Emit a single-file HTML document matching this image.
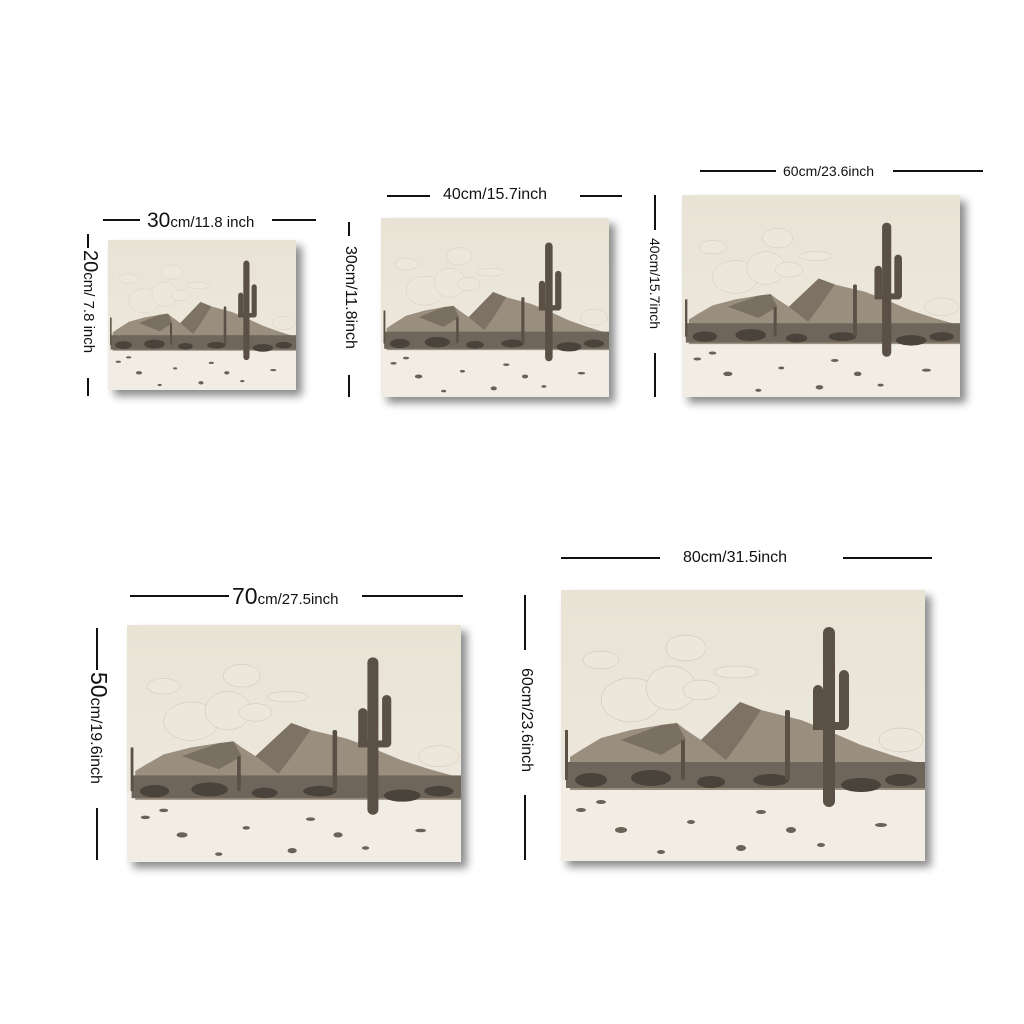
<!DOCTYPE html>
<html><head><meta charset="utf-8"><style>
html,body{margin:0;padding:0;background:#fff;}
body{width:1024px;height:1024px;position:relative;overflow:hidden;font-family:"Liberation Sans",sans-serif;color:#111;}
.img{position:absolute;box-shadow:6px 6px 8px rgba(0,0,0,0.45);background:#ece6da;}
.img svg{display:block;width:100%;height:100%;}
.hl{position:absolute;height:2px;background:#111;}
.vl{position:absolute;width:2px;background:#111;}
.t{position:absolute;white-space:nowrap;line-height:1;}
.r{transform-origin:0 0;transform:rotate(90deg);}
</style></head><body>
<svg width="0" height="0" style="position:absolute">
<defs>
<linearGradient id="sky" x1="0" y1="0" x2="0" y2="1"><stop offset="0" stop-color="#e9e3d6"/><stop offset="1" stop-color="#eee9df"/></linearGradient>
<symbol id="scene" viewBox="0 0 364 271" preserveAspectRatio="none">
<rect width="364" height="271" fill="url(#sky)"/>
<rect y="190" width="364" height="81" fill="#f1ede5"/>
<g fill="#ece6db" stroke="#c9bfae" stroke-width="0.5">
<ellipse cx="70" cy="110" rx="30" ry="22"/><ellipse cx="110" cy="98" rx="25" ry="22"/>
<ellipse cx="125" cy="58" rx="20" ry="13"/><ellipse cx="140" cy="100" rx="18" ry="10"/>
<ellipse cx="40" cy="70" rx="18" ry="9"/><ellipse cx="175" cy="82" rx="22" ry="6"/>
<ellipse cx="340" cy="150" rx="22" ry="12"/>
</g>
<polygon points="9,167 20,160 40,148 70,140 100,135 116,133 125,140 140,150 179,112 200,120 240,130 270,142 300,155 330,165 364,175 364,200 9,200" fill="#9a8f7f"/>
<polygon points="140,150 179,112 200,120 180,150 165,170" fill="#7d7263"/>
<polygon points="60,150 100,135 116,133 125,150 100,165" fill="#7a7062"/>
<rect x="5" y="172" width="359" height="26" fill="#6e665b"/>
<g fill="#4a433b">
<ellipse cx="30" cy="190" rx="16" ry="7"/><ellipse cx="90" cy="188" rx="20" ry="8"/>
<ellipse cx="150" cy="192" rx="14" ry="6"/><ellipse cx="210" cy="190" rx="18" ry="6"/>
<ellipse cx="300" cy="195" rx="20" ry="7"/><ellipse cx="340" cy="190" rx="16" ry="6"/>
</g>
<g fill="#6a6157">
<ellipse cx="60" cy="240" rx="6" ry="3"/><ellipse cx="130" cy="232" rx="4" ry="2"/>
<ellipse cx="230" cy="240" rx="5" ry="3"/><ellipse cx="180" cy="258" rx="5" ry="3"/>
<ellipse cx="320" cy="235" rx="6" ry="2"/><ellipse cx="20" cy="220" rx="5" ry="2"/>
<ellipse cx="260" cy="255" rx="4" ry="2"/><ellipse cx="100" cy="262" rx="4" ry="2"/>
<ellipse cx="40" cy="212" rx="5" ry="2"/><ellipse cx="200" cy="222" rx="5" ry="2"/>
</g>
<g fill="#5a5045">
<rect x="262" y="37" width="12" height="180" rx="6"/>
<rect x="252" y="95" width="10" height="45" rx="5"/><rect x="252" y="132" width="16" height="8"/>
<rect x="278" y="80" width="10" height="60" rx="5"/><rect x="270" y="132" width="14" height="8"/>
<rect x="224" y="120" width="5" height="70" rx="2"/>
<rect x="120" y="150" width="4" height="40" rx="2"/>
<rect x="4" y="140" width="3" height="50"/>
</g>
</symbol>
</defs></svg>

<!-- 30cm -->
<div class="img" style="left:108px;top:240px;width:188px;height:150px"><svg><use href="#scene"/></svg></div>
<div class="hl" style="left:103px;top:219px;width:37px"></div>
<div class="hl" style="left:272px;top:219px;width:44px"></div>
<div class="t" style="left:147px;top:210px;font-size:21px">30<span style="font-size:15px">cm/11.8 inch</span></div>
<div class="vl" style="left:87px;top:234px;height:14px"></div>
<div class="vl" style="left:87px;top:378px;height:18px"></div>
<div class="t r" style="left:100px;top:250px;font-size:20px">20<span style="font-size:15px">cm/ 7.8 inch</span></div>

<!-- 40cm -->
<div class="img" style="left:381px;top:218px;width:228px;height:179px"><svg><use href="#scene"/></svg></div>
<div class="hl" style="left:387px;top:195px;width:43px"></div>
<div class="hl" style="left:580px;top:195px;width:42px"></div>
<div class="t" style="left:443px;top:187px;font-size:16px">40cm/15.7inch</div>
<div class="vl" style="left:348px;top:222px;height:14px"></div>
<div class="vl" style="left:348px;top:375px;height:22px"></div>
<div class="t r" style="left:358px;top:246px;font-size:16px">30cm/11.8inch</div>

<!-- 60cm -->
<div class="img" style="left:682px;top:195px;width:278px;height:202px"><svg><use href="#scene"/></svg></div>
<div class="hl" style="left:700px;top:170px;width:76px"></div>
<div class="hl" style="left:893px;top:170px;width:90px"></div>
<div class="t" style="left:783px;top:164px;font-size:14px">60cm/23.6inch</div>
<div class="vl" style="left:654px;top:195px;height:35px"></div>
<div class="vl" style="left:654px;top:353px;height:44px"></div>
<div class="t r" style="left:662px;top:238px;font-size:14px">40cm/15.7inch</div>

<!-- 70cm -->
<div class="img" style="left:127px;top:625px;width:334px;height:237px"><svg><use href="#scene"/></svg></div>
<div class="hl" style="left:130px;top:595px;width:99px"></div>
<div class="hl" style="left:362px;top:595px;width:101px"></div>
<div class="t" style="left:232px;top:585px;font-size:23px">70<span style="font-size:15px">cm/27.5inch</span></div>
<div class="vl" style="left:96px;top:628px;height:42px"></div>
<div class="vl" style="left:96px;top:808px;height:52px"></div>
<div class="t r" style="left:110px;top:672px;font-size:23px">50<span style="font-size:16px">cm/19.6inch</span></div>

<!-- 80cm -->
<div class="img" style="left:561px;top:590px;width:364px;height:271px"><svg><use href="#scene"/></svg></div>
<div class="hl" style="left:561px;top:557px;width:99px"></div>
<div class="hl" style="left:843px;top:557px;width:89px"></div>
<div class="t" style="left:683px;top:550px;font-size:16px">80cm/31.5inch</div>
<div class="vl" style="left:524px;top:595px;height:55px"></div>
<div class="vl" style="left:524px;top:795px;height:65px"></div>
<div class="t r" style="left:534px;top:668px;font-size:16px">60cm/23.6inch</div>
</body></html>
